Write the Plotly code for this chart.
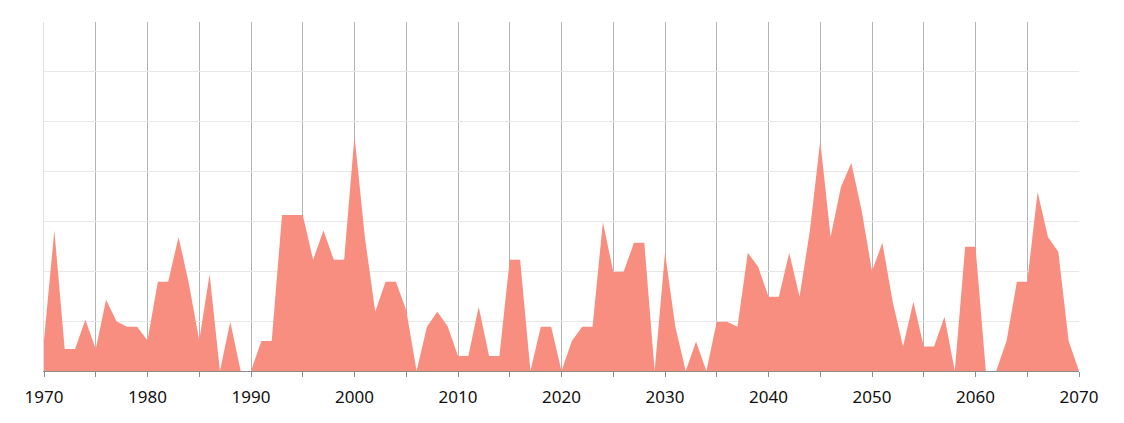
import plotly.graph_objects as go

years = list(range(1970, 2071))
values = [
    0.62, 2.82, 0.44, 0.44, 1.03, 0.44, 1.43, 1.00, 0.89, 0.89,
    0.61, 1.79, 1.79, 2.69, 1.75, 0.61, 1.94, 0.00, 0.99, 0.00,
    0.00, 0.60, 0.60, 3.13, 3.13, 3.13, 2.23, 2.82, 2.23, 2.23,
    4.72, 2.69, 1.19, 1.79, 1.79, 1.22, 0.00, 0.89, 1.19, 0.90,
    0.30, 0.30, 1.29, 0.30, 0.30, 2.23, 2.23, 0.00, 0.89, 0.89,
    0.00, 0.60, 0.89, 0.89, 2.99, 1.99, 1.99, 2.57, 2.57, 0.00,
    2.37, 0.89, 0.00, 0.59, 0.00, 0.99, 0.99, 0.89, 2.37, 2.09,
    1.49, 1.49, 2.37, 1.49, 2.82, 4.62, 2.69, 3.69, 4.17, 3.22,
    2.00, 2.57, 1.39, 0.49, 1.39, 0.49, 0.49, 1.09, 0.00, 2.49,
    2.49, 0.00, 0.00, 0.60, 1.79, 1.79, 3.59, 2.69, 2.39, 0.60,
    0.00,
]
tick_vals = list(range(1970, 2071, 5))
tick_text = [str(v) if v % 10 == 0 else "" for v in tick_vals]

fig = go.Figure()
fig.add_trace(go.Scatter(
    x=years, y=values, mode="lines", fill="tozeroy",
    line=dict(width=0, color="#F78E7F"), fillcolor="#F78E7F",
    hoverinfo="x+y", showlegend=False,
))
fig.update_layout(
    width=1116, height=415,
    margin=dict(l=36, r=45, t=14, b=52),
    paper_bgcolor="white", plot_bgcolor="white",
    font=dict(family="Noto Sans, Open Sans, sans-serif", size=17, color="#111111"),
    xaxis=dict(
        range=[1970, 2070], tickmode="array", tickvals=tick_vals, ticktext=tick_text,
        showgrid=True, gridcolor="#B4B4B4", gridwidth=1,
        showline=True, linecolor="#8C8C8C", linewidth=1,
        ticks="outside", ticklen=5, tickcolor="#8C8C8C", zeroline=False,
        ticklabelstandoff=6,
    ),
    yaxis=dict(
        range=[0, 7], dtick=1, showticklabels=False,
        showgrid=True, gridcolor="#E8E8E8", gridwidth=1,
        showline=True, linecolor="#E0E0E0", linewidth=1,
        zeroline=False, ticks="",
    ),
)
fig.write_html("out.html")
